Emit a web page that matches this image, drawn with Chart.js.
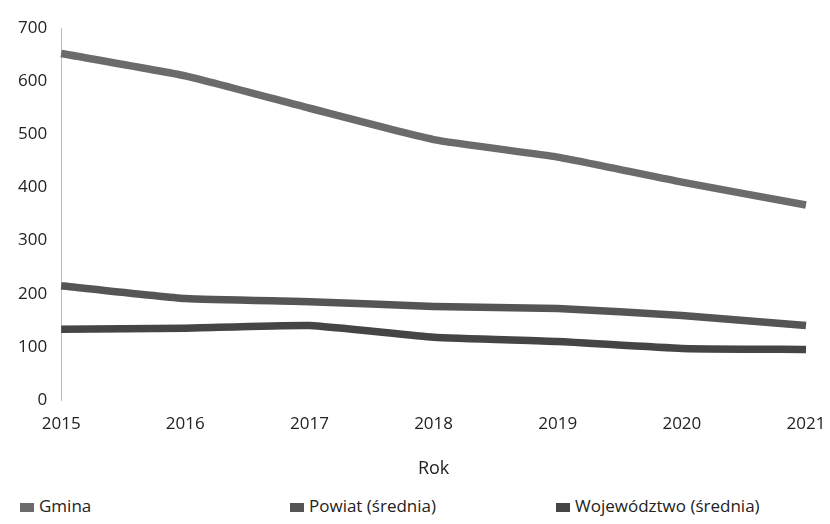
<!DOCTYPE html>
<html>
<head>
<meta charset="utf-8">
<script src="https://cdn.jsdelivr.net/npm/chart.js@4/dist/chart.umd.min.js"></script>
<style>
  body { margin: 0; background: #fff; font-family: "Open Sans", sans-serif; }
  #wrap { position: relative; width: 830px; height: 524px; }
  #legend { position: absolute; top: 494px; left: 0; width: 830px; height: 30px; font-size: 17px; color: #222; }
  #legend span { position: absolute; white-space: nowrap; }
  #legend i { display: inline-block; width: 14px; height: 9px; margin-right: 5px; vertical-align: middle; }
</style>
</head>
<body>
<div id="wrap">
  <canvas id="rokChart" width="830" height="487"></canvas>
  <div id="legend"></div>
</div>
<script>
const years = ["2015", "2016", "2017", "2018", "2019", "2020", "2021"];
const gmina = [652, 610, 549, 490, 457, 410, 367];
const powiat = [215, 191, 185, 176, 172, 159, 140];
const wojewodztwo = [133, 135, 140, 118, 110, 97, 95];
const seriesNames = ["Gmina", "Powiat (średnia)", "Województwo (średnia)"];
const yTicks = [0, 100, 200, 300, 400, 500, 600, 700];

const colors = ["#6b6b6b", "#555555", "#454545"];
const legendX = [20, 290, 556];

const ctx = document.getElementById("rokChart").getContext("2d");
const chart = new Chart(ctx, {
    type: "line",
    data: {
        labels: years,
        datasets: [gmina, powiat, wojewodztwo].map((vals, i) => ({
            label: seriesNames[i],
            data: vals,
            borderColor: colors[i],
            backgroundColor: colors[i],
            borderWidth: 7.5,
            pointRadius: 0,
            tension: 0.15,
            borderCapStyle: "butt",
        })),
    },
    options: {
        responsive: false,
        animation: false,
        layout: { padding: { top: 28, right: 24, left: 4, bottom: 3 } },
        plugins: {
            legend: { display: false },
            tooltip: { enabled: false },
        },
        scales: {
            x: {
                offset: false,
                afterFit: (axis) => { axis.paddingRight = 0; },
                grid: { display: false, drawTicks: false },
                border: { display: false },
                ticks: { color: "#222", font: { family: "Open Sans", size: 17 }, padding: 14, maxRotation: 0 },
                title: { display: true, text: "Rok", color: "#222", font: { family: "Open Sans", size: 18 }, padding: { top: 10 } },
            },
            y: {
                min: 0,
                max: 700,
                afterBuildTicks: (axis) => { axis.ticks = yTicks.map(v => ({ value: v })); },
                grid: { display: false, drawTicks: false },
                border: { display: true, color: "#bbb", width: 1, dash: [1, 3] },
                ticks: { color: "#222", font: { family: "Open Sans", size: 17 }, padding: 14 },
            },
        },
    },
});

const legend = document.getElementById("legend");
chart.data.datasets.forEach((ds, i) => {
    const item = document.createElement("span");
    item.style.left = legendX[i] + "px";
    item.innerHTML = `<i style="background:${ds.borderColor}"></i>${ds.label}`;
    legend.appendChild(item);
});
</script>
</body>
</html>
